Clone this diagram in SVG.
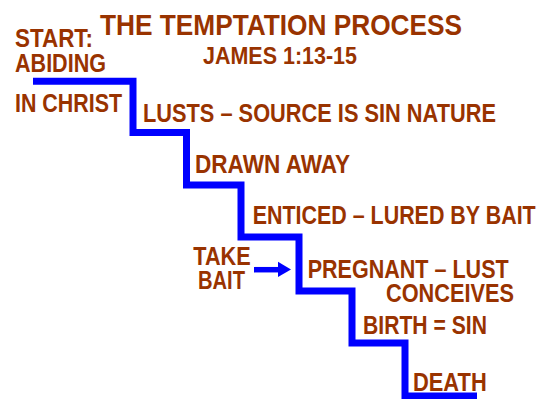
<svg xmlns="http://www.w3.org/2000/svg" width="552" height="399" viewBox="0 0 552 399">
  <style>
    .t { font-family: "Liberation Sans", Arial, sans-serif; font-weight: bold; fill: #993300; font-size: 25px; }
    .title { font-size: 30px; }
    .sub { font-size: 24.5px; }
    .stair { fill: none; stroke: #0000FF; stroke-width: 7; stroke-linejoin: miter; stroke-linecap: butt; }
  </style>
  <defs>
    <marker id="ah" markerWidth="4" markerHeight="4" refX="3.5" refY="2" orient="auto" markerUnits="strokeWidth">
      <path d="M0,0 L4,2 L0,4 Z" fill="#0000FF"/>
    </marker>
  </defs>
  <rect width="552" height="399" fill="#FFFFFF"/>
  <g id="connectors">
    <path class="stair" d="M33,81.3 H133 V132.5 H186.5 V185 H241 V237 H299 V291 H352 V343 H405 V396 H477"/>
    <path d="M254,269.7 H279" stroke="#0000FF" stroke-width="5.5" fill="none"/>
    <path d="M278,261.7 L291,269.5 L278,277 Z" fill="#0000FF"/>
  </g>
  <g id="title"><text class="t title" x="100" y="35" textLength="362" lengthAdjust="spacingAndGlyphs">THE TEMPTATION PROCESS</text></g>
  <g id="subtitle"><text class="t sub" x="203" y="64.3" textLength="154" lengthAdjust="spacingAndGlyphs">JAMES 1:13-15</text></g>
  <g id="start">
    <text class="t" x="15" y="47.3" textLength="78" lengthAdjust="spacingAndGlyphs">START:</text>
    <text class="t" x="15" y="71.7" textLength="91" lengthAdjust="spacingAndGlyphs">ABIDING</text>
    <text class="t" x="15" y="111.7" textLength="107" lengthAdjust="spacingAndGlyphs">IN CHRIST</text>
  </g>
  <g id="lusts"><text class="t" x="143" y="121.7" textLength="353" lengthAdjust="spacingAndGlyphs">LUSTS – SOURCE IS SIN NATURE</text></g>
  <g id="drawn"><text class="t" x="195" y="173.3" textLength="155" lengthAdjust="spacingAndGlyphs">DRAWN AWAY</text></g>
  <g id="enticed"><text class="t" x="252.7" y="223.5" textLength="283" lengthAdjust="spacingAndGlyphs">ENTICED – LURED BY BAIT</text></g>
  <g id="takebait">
    <text class="t" x="193.3" y="265" textLength="57.4" lengthAdjust="spacingAndGlyphs">TAKE</text>
    <text class="t" x="198" y="289.3" textLength="47" lengthAdjust="spacingAndGlyphs">BAIT</text>
  </g>
  <g id="pregnant">
    <text class="t" x="307.7" y="278.3" textLength="201" lengthAdjust="spacingAndGlyphs">PREGNANT – LUST</text>
    <text class="t" x="386" y="301.7" textLength="128" lengthAdjust="spacingAndGlyphs">CONCEIVES</text>
  </g>
  <g id="birth"><text class="t" x="363" y="334" textLength="124" lengthAdjust="spacingAndGlyphs">BIRTH = SIN</text></g>
  <g id="death"><text class="t" x="413" y="390.7" textLength="73.7" lengthAdjust="spacingAndGlyphs">DEATH</text></g>
</svg>
